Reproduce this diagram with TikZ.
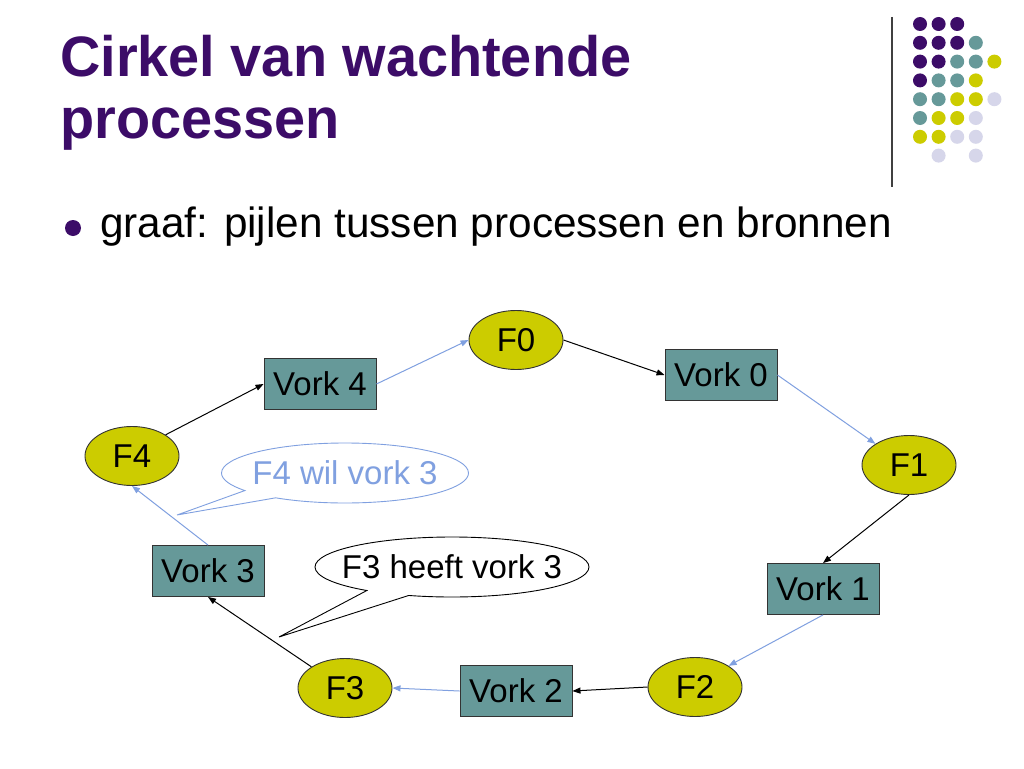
\documentclass[tikz,border=0pt]{standalone}
\usepackage{fontspec}
\setmainfont{Liberation Sans}
\newfontfamily\titlefont{Liberation Sans}[FakeStretch=0.98]
\usetikzlibrary{shapes.geometric,shapes.callouts,arrows.meta}
\definecolor{titlepurple}{RGB}{60,12,104}
\definecolor{forkteal}{RGB}{102,153,153}
\definecolor{philyellow}{RGB}{204,204,0}
\definecolor{dotlav}{RGB}{214,214,234}
\definecolor{arrowblue}{RGB}{128,160,224}

\begin{document}
\begin{tikzpicture}[x=1pt,y=-1pt,
    fork/.style={draw=black!80, line width=0.9pt, fill=forkteal, minimum width=112pt, minimum height=51pt, inner sep=0pt, font=\fontsize{33}{36}\selectfont},
    phil/.style={ellipse, draw=black!80, line width=0.9pt, fill=philyellow, minimum width=94pt, minimum height=59pt, inner sep=0pt, font=\fontsize{33}{36}\selectfont},
    talk/.style={ellipse callout, draw, line width=0.9pt, fill=white, minimum height=60pt, inner xsep=-60pt, inner ysep=0pt, callout pointer arc=20, font=\fontsize{33}{36}\selectfont},
    blk/.style={-{Triangle[length=8pt,width=6pt]}, line width=1pt, black},
    blu/.style={-{Triangle[length=8pt,width=6pt]}, line width=1pt, arrowblue}]
  \fill[white] (0,0) rectangle (1024,768);
  \useasboundingbox (0,0) rectangle (1024,768);

  % title and bullet
  \node[anchor=base west, inner sep=0pt, text=titlepurple, font=\titlefont\bfseries\fontsize{57}{61}\selectfont] (title1) at (60,77) {Cirkel van wachtende};
  \node[anchor=base west, inner sep=0pt, text=titlepurple, font=\titlefont\bfseries\fontsize{57}{61}\selectfont] (title2) at (60,138) {processen};
  \fill[titlepurple] (73,228) circle[radius=8pt];
  \node[anchor=base west, inner sep=0pt, font=\fontsize{42.3}{46}\selectfont] (bullet) at (100,237) {graaf: pijlen tussen processen en bronnen};

  % logo dots
  \draw[line width=1.2pt, black!75] (892,17) -- (892,187);
  \foreach \c/\r in {0/0,1/0,2/0,0/1,1/1,2/1,0/2,1/2,0/3}
    \fill[titlepurple] (920+18.6*\c,24+18.8*\r) circle[radius=7pt];
  \foreach \c/\r in {3/1,2/2,3/2,1/3,2/3,0/4,1/4,0/5}
    \fill[forkteal] (920+18.6*\c,24+18.8*\r) circle[radius=7pt];
  \foreach \c/\r in {4/2,3/3,2/4,3/4,1/5,2/5,0/6,1/6}
    \fill[philyellow] (920+18.6*\c,24+18.8*\r) circle[radius=7pt];
  \foreach \c/\r in {4/4,3/5,2/6,3/6,1/7,3/7}
    \fill[dotlav] (920+18.6*\c,24+18.8*\r) circle[radius=7pt];

  % processes and forks
  \node[phil] (f0) at (516,340) {F0};
  \node[phil] (f1) at (909,465) {F1};
  \node[phil] (f2) at (695,687) {F2};
  \node[phil] (f3) at (345,688) {F3};
  \node[phil] (f4) at (132,456) {F4};
  \node[fork] (v0) at (721,375) {Vork 0};
  \node[fork] (v1) at (823,589) {Vork 1};
  \node[fork] (v2) at (516,691) {Vork 2};
  \node[fork] (v3) at (208,571) {Vork 3};
  \node[fork] (v4) at (320,384) {Vork 4};

  \draw[blu] (v4.east) -- (f0.west);
  \draw[blk] (f0.east) -- (v0.west);
  \draw[blu] (v0.east) -- (f1.north west);
  \draw[blk] (f1.south) -- (v1.north);
  \draw[blu] (v1.south) -- (f2.north east);
  \draw[blk] (f2.west) -- (v2.east);
  \draw[blu] (v2.west) -- (f3.east);
  \draw[blk] (f3.north west) -- (v3.south);
  \draw[blu] (v3.north) -- (f4.south);
  \draw[blk] (f4.north east) -- (v4.west);

  % speech bubbles
  \coordinate (wiltip) at (177,515);
  \coordinate (heefttip) at (279,637);
  \node[talk, draw=arrowblue, text=arrowblue, minimum width=247pt, callout absolute pointer={(wiltip)}] (wil) at (345,473) {F4 wil vork 3};
  \node[talk, minimum width=274pt, callout absolute pointer={(heefttip)}] (heeft) at (452,567) {F3 heeft vork 3};
\end{tikzpicture}
\end{document}
